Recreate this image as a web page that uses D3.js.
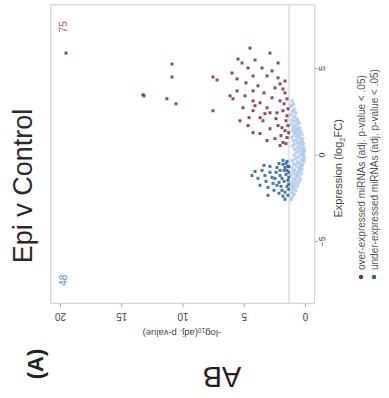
<!DOCTYPE html>
<html>
<head>
<meta charset="utf-8">
<script src="https://cdn.jsdelivr.net/npm/d3@7"></script>
<style>
  html, body { margin: 0; padding: 0; background: #fff; }
  svg { display: block; }
  text { font-family: "Liberation Sans", Arial, sans-serif; }
</style>
</head>
<body>
<svg id="chart" width="389" height="398"></svg>
<script>
// Epi v Control volcano plot, laid out turned a quarter turn (reads bottom-to-top).

// Over-expressed miRNAs: -log10(adj. p) and log2FC
const upP = [19.51,10.86,10.86,13.22,11.27,10.53,7.51,7.18,7.51,4.49,2.86,5.14,4.08,4.65,2.20,3.51,2.69,5.55,4.24,3.10,
             2.20,5.55,4.24,2.45,2.04,1.80,1.63,5.88,4.90,4.24,3.67,2.69,2.04,1.47,5.06,4.24,3.10,2.29,1.80,1.47,
             5.31,4.65,3.43,2.86,2.20,1.63,4.24,3.67,3.67,3.10,2.45,1.80,1.47,4.08,1.71,1.55,1.88,1.39,1.55,1.96,
             2.37,3.27,3.84,4.82,6.12,3.35,1.63,1.39,2.86,4.57,1.33,2.04,5.47,5.96,13.14];
const upFC = [5.86,5.23,4.48,3.45,3.22,2.93,4.48,4.31,2.53,6.15,5.86,5.29,5.46,5.00,5.29,5.00,4.83,4.37,4.54,4.54,
              4.43,3.68,3.68,3.85,4.08,3.79,3.56,3.22,3.39,3.10,2.99,3.28,3.10,3.22,2.70,2.53,2.70,2.41,2.53,2.24,
              1.95,1.67,1.95,1.49,1.67,1.38,1.26,2.13,1.21,0.80,0.92,0.69,0.98,2.82,2.93,1.95,1.55,1.67,0.63,1.09,
              2.07,2.36,3.97,4.14,3.39,3.56,4.25,2.64,2.41,2.13,1.26,0.52,5.52,4.71,3.39];

// Under-expressed miRNAs
const downP = [4.33,4.08,3.67,3.27,3.02,2.86,2.45,2.29,2.04,1.88,1.80,1.63,1.47,1.39,2.29,2.86,2.04,1.80,1.55,1.39,
               1.71,1.55,1.33,1.88,2.12,2.61,3.18,3.51,3.84,1.47,1.63,2.12,2.53,1.33,1.96,1.39,1.71,2.37,2.69,1.33,
               1.47,1.80,2.12,3.02,1.63,1.33,1.33,3.35];
const downFC = [-1.21,-0.98,-1.78,-1.21,-2.36,-1.03,-1.38,-1.78,-1.21,-2.07,-2.41,-0.75,-0.92,-1.49,-0.75,-0.69,-0.92,-0.57,-0.52,-0.69,
                -0.92,-1.15,-1.03,-1.38,-1.61,-1.67,-1.55,-0.92,-1.38,-1.84,-2.18,-2.24,-2.07,-1.72,-1.84,-2.36,-1.55,-1.03,-1.32,-1.32,
                -0.40,-0.34,-0.52,-1.90,-2.59,-0.69,-2.01,-0.63];

// Not significant
const nsFC = [3.1,2.9,2.8,2.6,2.5,2.4,2.3,2.2,2.1,2.0,1.95,1.9,1.8,1.75,1.7,1.6,1.55,1.5,1.45,1.4,
              1.35,1.3,1.25,1.2,1.15,1.1,1.05,1.0,0.95,0.9,0.85,0.8,0.75,0.7,0.65,0.6,0.55,0.5,0.45,0.4,
              0.35,0.3,0.25,0.2,0.15,0.1,0.05,0.0,-0.05,-0.1,-0.15,-0.2,-0.25,-0.3,-0.35,-0.4,-0.45,-0.5,-0.55,-0.6,
              -0.65,-0.7,-0.75,-0.8,-0.85,-0.9,-0.95,-1.0,-1.05,-1.1,-1.15,-1.2,-1.25,-1.3,-1.4,-1.45,-1.5,-1.6,-1.65,-1.7,
              -1.8,-1.85,-1.9,-2.0,-2.1,-2.2,-2.3,-2.45,-2.6];
const nsP = [1.05,0.95,1.12,0.88,1.0,0.75,1.15,0.9,0.7,1.05,0.6,0.85,0.5,1.1,0.7,0.95,0.45,0.8,0.6,1.0,
             0.35,0.7,0.9,0.5,0.25,0.8,0.6,1.1,0.4,0.2,0.7,0.95,0.3,0.55,0.15,0.8,0.4,1.0,0.1,0.6,
             0.3,0.85,0.05,0.5,0.2,0.7,0.1,0.35,0.9,0.15,0.55,0.05,0.75,0.3,1.05,0.1,0.6,0.4,0.9,0.2,
             0.7,0.35,1.1,0.5,0.25,0.85,0.45,1.0,0.6,0.3,0.8,1.15,0.5,0.7,0.95,0.4,0.75,1.05,0.55,0.85,
             1.1,0.65,0.9,1.0,0.75,1.1,0.9,1.05,1.15];

const pTicks = [0, 5, 10, 15, 20];
const fcTicks = [-5, 0, 5];
const pThreshold = 1.301;           // adj. p-value = .05
const legendLabels = ["over-expressed miRNAs (adj. p-value < .05)",
                      "under-expressed miRNAs (adj. p-value < .05)"];
const colors = { up: "#7a2a42", down: "#2c5c9f", ns: "#a3c0e7", upText: "#c4506c", downText: "#5a82c2" };

const svg = d3.select("#chart");

// -log10(p) runs right-to-left, log2FC runs bottom-to-top
const pScale = d3.scaleLinear().domain([0, 20]).range([305, 60]);
const fcScale = d3.scaleLinear().domain([-5, 5]).range([241, 68]);
const pLim = [-0.8, 20.75], fcLim = [-8.6, 8.65];
const frameL = pScale(pLim[1]), frameR = pScale(pLim[0]);
const frameT = fcScale(fcLim[1]), frameB = fcScale(fcLim[0]);

// plot frame
svg.append("rect")
  .attr("x", frameL).attr("y", frameT)
  .attr("width", frameR - frameL).attr("height", frameB - frameT)
  .attr("fill", "none").attr("stroke", "#c9c9c9").attr("stroke-width", 1);

// significance threshold
svg.append("line")
  .attr("x1", pScale(pThreshold)).attr("x2", pScale(pThreshold))
  .attr("y1", frameT).attr("y2", frameB)
  .attr("stroke", "#c9c9c9").attr("stroke-width", 1);

const pts = svg.append("g");
pts.selectAll("circle.ns").data(nsP.map((p, i) => [p, nsFC[i]])).join("circle")
  .attr("class", "ns")
  .attr("cx", d => pScale(d[0])).attr("cy", d => fcScale(d[1])).attr("r", 2)
  .attr("fill", colors.ns).attr("fill-opacity", 0.7);
pts.selectAll("rect.down").data(downP.map((p, i) => [p, downFC[i]])).join("rect")
  .attr("class", "down")
  .attr("x", d => pScale(d[0]) - 1.5).attr("y", d => fcScale(d[1]) - 1.5)
  .attr("width", 3).attr("height", 3)
  .attr("fill", colors.down).attr("fill-opacity", 0.85);
pts.selectAll("rect.up").data(upP.map((p, i) => [p, upFC[i]])).join("rect")
  .attr("class", "up")
  .attr("x", d => pScale(d[0]) - 1.5).attr("y", d => fcScale(d[1]) - 1.5)
  .attr("width", 3).attr("height", 3)
  .attr("fill", colors.up).attr("fill-opacity", 0.85);

// counts of significant miRNAs
svg.append("text").attr("transform", `translate(${frameL + 16},${frameT + 22}) rotate(-90)`)
  .attr("text-anchor", "middle").attr("font-size", 10).attr("fill", colors.upText).text(upP.length);
svg.append("text").attr("transform", `translate(${frameL + 16},${frameB - 23}) rotate(-90)`)
  .attr("text-anchor", "middle").attr("font-size", 10).attr("fill", colors.downText).text(downP.length);

// -log10 p axis along the bottom, labels upside down
const pAxis = svg.append("g").attr("transform", `translate(0,${frameB})`)
  .call(d3.axisBottom(pScale).tickValues(pTicks).tickSize(4).tickSizeOuter(0));
pAxis.select(".domain").remove();
pAxis.selectAll(".tick line").attr("stroke", "#aaa");
pAxis.selectAll(".tick text")
  .attr("y", null).attr("dy", null)
  .attr("transform", "translate(0,10) rotate(180)")
  .attr("font-size", 10).attr("fill", "#444").attr("font-family", "Liberation Sans, Arial, sans-serif");

const yl = svg.append("text")
  .attr("transform", `translate(${(frameL + frameR) / 2 - 1},330) rotate(180)`)
  .attr("text-anchor", "middle").attr("font-size", 9.5).attr("fill", "#444");
yl.append("tspan").text("-log");
yl.append("tspan").attr("font-size", 6.5).attr("dy", 2.5).text("10");
yl.append("tspan").attr("dy", -2.5).text("(adj. p-value)");

// log2FC axis along the right, labels reading upward
const fcAxis = svg.append("g").attr("transform", `translate(${frameR},0)`)
  .call(d3.axisRight(fcScale).tickValues(fcTicks).tickSize(3).tickSizeOuter(0));
fcAxis.select(".domain").remove();
fcAxis.selectAll(".tick line").attr("stroke", "#aaa");
fcAxis.selectAll(".tick text")
  .attr("x", null).attr("dy", null)
  .attr("text-anchor", "middle")
  .attr("transform", "translate(10,0) rotate(-90)")
  .attr("font-size", 9).attr("fill", "#444").attr("font-family", "Liberation Sans, Arial, sans-serif");

const xl = svg.append("text")
  .attr("transform", `translate(342,${fcScale(-0.8)}) rotate(-90)`)
  .attr("text-anchor", "middle").attr("font-size", 11).attr("fill", "#444");
xl.append("tspan").text("Expression (log");
xl.append("tspan").attr("font-size", 7.5).attr("dy", 2.5).text("2");
xl.append("tspan").attr("dy", -2.5).text("FC)");

// legend
const legend = svg.append("g");
[colors.up, colors.down].forEach((c, i) => {
  const lx = 361 + i * 13, ly = 277;
  legend.append("circle").attr("cx", lx).attr("cy", ly).attr("r", 2.2).attr("fill", c);
  legend.append("text").attr("transform", `translate(${lx + 3.5},${ly - 7}) rotate(-90)`)
    .attr("font-size", 10).attr("fill", "#555").text(legendLabels[i]);
});

// title and panel labels
svg.append("text").attr("transform", "translate(32,186) rotate(-90)")
  .attr("text-anchor", "middle").attr("font-size", 27).attr("fill", "#2a2a2a")
  .attr("font-family", "Open Sans, sans-serif").text("Epi v Control");
svg.append("text").attr("transform", "translate(43,364) rotate(-90)")
  .attr("text-anchor", "middle").attr("font-size", 22).attr("font-weight", "bold").attr("fill", "#222")
  .attr("font-family", "Open Sans, sans-serif").text("(A)");
svg.append("text").attr("transform", "translate(222,367) rotate(180)")
  .attr("text-anchor", "middle").attr("font-size", 29).attr("fill", "#222").text("AB");
</script>
</body>
</html>
